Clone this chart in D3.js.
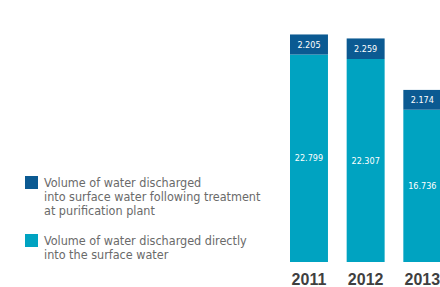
<!DOCTYPE html>
<html>
<head>
<meta charset="utf-8">
<script src="https://cdn.jsdelivr.net/npm/d3@7"></script>
<style>
  body { margin: 0; background: #fff; }
  svg { display: block; }
  .legend text { font-family: "DejaVu Sans Condensed", "Liberation Sans Narrow", sans-serif; font-size: 12.5px; fill: #6a6a6a; }
  .val { font-family: "DejaVu Sans Condensed", "Liberation Sans Narrow", sans-serif; font-size: 9px; fill: #fff; }
  .year { font-family: "Liberation Sans", Arial, sans-serif; font-size: 16px; font-weight: bold; fill: #3f3f3f; }
</style>
</head>
<body>
<div id="chart"></div>
<script>
var years = ["2011", "2012", "2013"];
var treated = [2205, 2259, 2174];
var direct = [22799, 22307, 16736];
var seriesNames = [
    ["Volume of water discharged", "into surface water following treatment", "at purification plant"],
    ["Volume of water discharged directly", "into the surface water"]
];
var colors = ["#0b5a92", "#00a3c1"];

var width = 440, height = 287;
var svg = d3.select("#chart").append("svg")
    .attr("width", width)
    .attr("height", height);

// title sits above the visible area, only the paren tails show
svg.append("text")
    .attr("x", 28)
    .attr("y", -4)
    .attr("font-family", "Liberation Sans, sans-serif")
    .attr("font-size", 20)
    .attr("fill", "#777")
    .text("(in thousand m³)");

var fmt = d3.formatLocale({decimal: ",", thousands: ".", grouping: [3], currency: ["", ""]}).format(",");

var x = d3.scaleBand()
    .domain(years)
    .range([290, 441.3])
    .paddingInner(0.33)
    .paddingOuter(0);

var y = d3.scaleLinear()
    .domain([0, 25000])
    .range([262, 262 - 227.5]);

var data = years.map(function(d, i) {
    return {year: d, direct: direct[i], treated: treated[i]};
});

var bars = svg.selectAll(".bar").data(data).enter().append("g").attr("class", "bar");

bars.append("rect")
    .attr("x", function(d) { return x(d.year); })
    .attr("width", x.bandwidth())
    .attr("y", function(d) { return y(d.direct); })
    .attr("height", function(d) { return y(0) - y(d.direct); })
    .attr("fill", colors[1]);

bars.append("rect")
    .attr("x", function(d) { return x(d.year); })
    .attr("width", x.bandwidth())
    .attr("y", function(d) { return y(d.direct + d.treated); })
    .attr("height", function(d) { return y(d.direct) - y(d.direct + d.treated); })
    .attr("fill", colors[0]);

bars.append("text")
    .attr("class", "val")
    .attr("text-anchor", "middle")
    .attr("dy", "0.35em")
    .attr("x", function(d) { return x(d.year) + x.bandwidth() / 2; })
    .attr("y", function(d) { return (y(d.direct) + y(d.direct + d.treated)) / 2; })
    .text(function(d) { return fmt(d.treated); });

bars.append("text")
    .attr("class", "val")
    .attr("text-anchor", "middle")
    .attr("dy", "0.35em")
    .attr("x", function(d) { return x(d.year) + x.bandwidth() / 2; })
    .attr("y", function(d) { return (y(0) + y(d.direct)) / 2; })
    .text(function(d) { return fmt(d.direct); });

var xAxis = d3.axisBottom(x).tickSize(0).tickPadding(0);
var gx = svg.append("g")
    .attr("transform", "translate(0,270)")
    .call(xAxis);
gx.select(".domain").remove();
gx.selectAll("text").attr("class", "year").attr("dy", "0.95em").attr("fill", null);

// legend
var legend = svg.append("g").attr("class", "legend");
var legendTop = [176, 234];
seriesNames.forEach(function(lines, i) {
    legend.append("rect")
        .attr("x", 25)
        .attr("y", legendTop[i])
        .attr("width", 13)
        .attr("height", 13)
        .attr("fill", colors[i]);
    var t = legend.append("text")
        .attr("x", 44)
        .attr("y", legendTop[i] + 11);
    lines.forEach(function(l, j) {
        t.append("tspan")
            .attr("x", 44)
            .attr("dy", j == 0 ? 0 : 14)
            .text(l);
    });
});
</script>
</body>
</html>
